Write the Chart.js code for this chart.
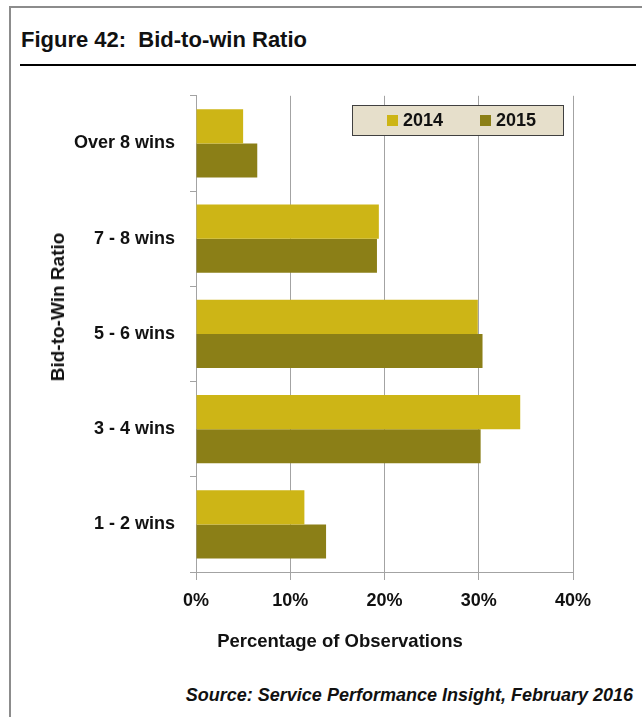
<!DOCTYPE html>
<html>
<head>
<meta charset="utf-8">
<title>Figure 42: Bid-to-win Ratio</title>
<script src="https://cdn.jsdelivr.net/npm/chart.js@4.4.1/dist/chart.umd.min.js"></script>
<style>
  html, body {
    margin: 0;
    padding: 0;
    background: #ffffff;
  }
  body {
    position: relative;
    width: 642px;
    height: 717px;
    overflow: hidden;
    font-family: Arial, "Liberation Sans", sans-serif;
    color: #111111;
  }
  .frame {
    position: absolute;
    left: 9px;
    top: 6px;
    right: 0;
    bottom: 0;
    border-left: 2px solid #8c8c8c;
    border-top: 2px solid #8c8c8c;
  }
  .fig-title {
    position: absolute;
    left: 21px;
    top: 27px;
    font-size: 22px;
    font-weight: bold;
    white-space: pre;
  }
  .fig-rule {
    position: absolute;
    left: 20px;
    top: 64px;
    width: 616px;
    height: 2px;
    background: #000000;
  }
  .chart-box {
    position: absolute;
    left: 0;
    top: 70px;
    width: 642px;
    height: 600px;
  }
  .axis-title {
    position: absolute;
    font-weight: bold;
    white-space: nowrap;
  }
  .y-title {
    left: 58px;
    top: 307px;
    font-size: 19px;
    transform: translate(-50%, -50%) rotate(-90deg);
  }
  .x-title {
    left: 340px;
    top: 641px;
    font-size: 18.5px;
    transform: translate(-50%, -50%);
  }
  .source {
    position: absolute;
    right: 9px;
    top: 685px;
    font-size: 18px;
    font-weight: bold;
    font-style: italic;
    white-space: nowrap;
  }
</style>
</head>
<body>
<div class="frame"></div>
<div class="fig-title">Figure 42:  Bid-to-win Ratio</div>
<div class="fig-rule"></div>
<div class="chart-box"><canvas id="chart"></canvas></div>
<div class="axis-title y-title">Bid-to-Win Ratio</div>
<div class="axis-title x-title">Percentage of Observations</div>
<div class="source">Source: Service Performance Insight, February 2016</div>

<script>
/* ======================================================
   Data
====================================================== */
const categories = ['Over 8 wins', '7 - 8 wins', '5 - 6 wins', '3 - 4 wins', '1 - 2 wins'];
const seriesLabels = ['2014', '2015'];
const share2014 = [5.0, 19.4, 29.9, 34.4, 11.5];
const share2015 = [6.5, 19.2, 30.4, 30.2, 13.8];
const xTicks = [0, 10, 20, 30, 40];

/* ======================================================
   Styles
====================================================== */
const COLOR_2014 = '#cdb516';
const COLOR_2015 = '#8b7f17';
const GRID_COLOR = '#a3a3a3';
const TEXT_COLOR = '#111111';
const FONT_FAMILY = 'Arial, "Liberation Sans", sans-serif';

/* ======================================================
   Legend drawn as a boxed panel inside the plot
====================================================== */
const legendBox = {
  id: 'legendBox',
  afterDraw(chart, args, opts) {
    const { ctx } = chart;
    const cy = opts.y + opts.h / 2;

    ctx.save();
    ctx.fillStyle = opts.background;
    ctx.fillRect(opts.x, opts.y, opts.w, opts.h);
    ctx.strokeStyle = opts.border;
    ctx.lineWidth = 1;
    ctx.strokeRect(opts.x + 0.5, opts.y + 0.5, opts.w - 1, opts.h - 1);

    ctx.font = `bold 18px ${FONT_FAMILY}`;
    ctx.textBaseline = 'middle';
    ctx.textAlign = 'left';
    chart.data.datasets.forEach((ds, i) => {
      const x = opts.itemX[i];
      ctx.fillStyle = ds.backgroundColor;
      ctx.fillRect(x, cy - 5.5, 11, 11);
      ctx.fillStyle = TEXT_COLOR;
      ctx.fillText(ds.label, x + 16, cy + 1);
    });
    ctx.restore();
  }
};

/* ======================================================
   Chart
====================================================== */
const canvas = document.getElementById('chart');

new Chart(canvas, {
  type: 'bar',
  data: {
    labels: categories,
    datasets: [
      {
        label: seriesLabels[0],
        data: share2014,
        backgroundColor: COLOR_2014,
        borderWidth: 0
      },
      {
        label: seriesLabels[1],
        data: share2015,
        backgroundColor: COLOR_2015,
        borderWidth: 0
      }
    ]
  },
  options: {
    indexAxis: 'y',
    responsive: true,
    maintainAspectRatio: false,
    animation: false,
    categoryPercentage: 0.715,
    barPercentage: 1.0,
    layout: {
      padding: { left: 0, right: 69, top: 25, bottom: 38 }
    },
    plugins: {
      legend: { display: false },
      tooltip: { enabled: false },
      legendBox: {
        x: 352,
        y: 35,
        w: 212,
        h: 31,
        itemX: [387, 480],
        background: '#e6dfcb',
        border: '#404040'
      }
    },
    scales: {
      x: {
        type: 'linear',
        min: 0,
        max: 40,
        afterBuildTicks(scale) {
          scale.ticks = xTicks.map(v => ({ value: v }));
        },
        afterFit(scale) {
          scale.height = 60;
        },
        grid: {
          color: GRID_COLOR,
          lineWidth: 1,
          drawTicks: true,
          tickLength: 8
        },
        border: { display: true, color: GRID_COLOR, width: 1 },
        ticks: {
          color: TEXT_COLOR,
          padding: 10,
          font: { family: FONT_FAMILY, size: 18, weight: 'bold' },
          callback: v => v + '%'
        }
      },
      y: {
        type: 'category',
        offset: true,
        afterFit(scale) {
          scale.width = 196;
        },
        grid: {
          offset: true,
          drawOnChartArea: false,
          drawTicks: true,
          tickLength: 6,
          color: GRID_COLOR,
          lineWidth: 1
        },
        border: { display: true, color: GRID_COLOR, width: 1 },
        ticks: {
          color: TEXT_COLOR,
          padding: 15,
          font: { family: FONT_FAMILY, size: 18, weight: 'bold' }
        }
      }
    }
  },
  plugins: [legendBox]
});
</script>
</body>
</html>
